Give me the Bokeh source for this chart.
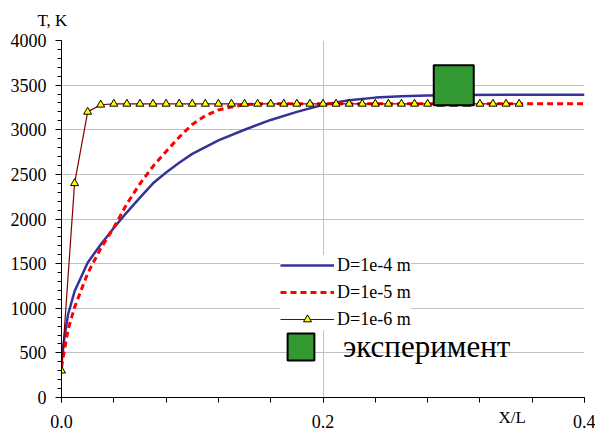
from bokeh.plotting import figure
from bokeh.models import SingleIntervalTicker, Legend, LegendItem, Label, Range1d
from bokeh.embed import file_html
from bokeh.resources import INLINE

# ---- data ----
x_d4 = [0, 0.002, 0.005, 0.01, 0.02, 0.03, 0.04, 0.05, 0.06, 0.07, 0.08, 0.09, 0.10,
        0.12, 0.14, 0.16, 0.18, 0.20, 0.22, 0.24, 0.26, 0.28, 0.30, 0.35, 0.40]
T_d4 = [380, 650, 930, 1190, 1510, 1715, 1900, 2075, 2240, 2400, 2520, 2630, 2730,
        2880, 3000, 3110, 3200, 3280, 3330, 3360, 3375, 3385, 3390, 3392, 3392]

x_d5 = [0, 0.005, 0.01, 0.02, 0.03, 0.04, 0.05, 0.06, 0.07, 0.08, 0.09, 0.10, 0.11,
        0.12, 0.13, 0.14, 0.15, 0.16, 0.20, 0.25, 0.30, 0.35, 0.40]
T_d5 = [340, 760, 1010, 1390, 1670, 1905, 2170, 2395, 2590, 2757, 2917, 3060, 3157,
        3222, 3255, 3280, 3290, 3290, 3290, 3290, 3290, 3290, 3290]

x_d6 = [0.00, 0.01, 0.02, 0.03, 0.04, 0.05, 0.06, 0.07, 0.08, 0.09, 0.10, 0.11,
        0.12, 0.13, 0.14, 0.15, 0.16, 0.17, 0.18, 0.19, 0.20, 0.21, 0.22, 0.23,
        0.24, 0.25, 0.26, 0.27, 0.28, 0.29, 0.30, 0.31, 0.32, 0.33, 0.34, 0.35]
T_d6 = [300, 2400, 3200, 3280, 3290, 3290, 3290, 3290, 3290, 3290, 3290, 3290,
        3290, 3290, 3290, 3290, 3290, 3290, 3290, 3290, 3290, 3290, 3290, 3290,
        3290, 3290, 3290, 3290, 3290, 3290, 3290, 3290, 3290, 3290, 3290, 3290]

x_exp = [0.3]
T_exp = [3500]

x_tick_step = 0.2
y_tick_step = 500
x_label_overrides = {0: "0.0"}

labels = ["D=1e-4 m", "D=1e-5 m", "D=1e-6 m", "эксперимент"]
y_title = "T, K"
x_title = "X/L"

FONT = "Liberation Serif"

p = figure(width=595, height=432, x_range=Range1d(0, 0.4), y_range=Range1d(0, 4000),
           output_backend="svg", toolbar_location=None,
           min_border_left=61, min_border_right=11, min_border_top=40, min_border_bottom=35)
p.outline_line_color = None
p.background_fill_color = "white"
p.border_fill_color = "white"

# axes
p.xaxis.ticker = SingleIntervalTicker(interval=x_tick_step, num_minor_ticks=5)
p.yaxis.ticker = SingleIntervalTicker(interval=y_tick_step, num_minor_ticks=5)
p.xaxis.major_label_overrides = x_label_overrides
p.xaxis.major_label_text_font = FONT
p.yaxis.major_label_text_font = FONT
p.xaxis.major_label_text_font_size = "18px"
p.yaxis.major_label_text_font_size = "18px"
p.axis.axis_line_color = "black"
p.axis.major_tick_line_color = "black"
p.axis.minor_tick_line_color = "black"
p.axis.major_label_text_color = "black"
p.axis.major_tick_in = 0
p.axis.minor_tick_in = 0
p.yaxis.major_tick_out = 6
p.yaxis.minor_tick_out = 4
p.yaxis.major_label_standoff = 9
p.xaxis.major_tick_out = 5
p.xaxis.minor_tick_out = 5
p.xaxis.major_label_standoff = 12

# grids
p.xgrid.ticker = SingleIntervalTicker(interval=x_tick_step)
p.ygrid.ticker = SingleIntervalTicker(interval=y_tick_step)
p.xgrid.grid_line_color = "#c0c0c0"
p.ygrid.grid_line_color = "#c0c0c0"

# series
r4 = p.line(x_d4, T_d4, line_color="#333399", line_width=2.5)
r5 = p.line(x_d5, T_d5, line_color="#ff0000", line_width=3, line_dash="6 4")
r6l = p.line(x_d6, T_d6, line_color="#800000", line_width=1.2)
r6m = p.scatter(x_d6, T_d6, marker="triangle", size=8, fill_color="#ffff00",
                line_color="black", line_width=1)
rexp = p.scatter(x_exp, T_exp, marker="square", size=40, fill_color="#339933",
                 line_color="black", line_width=2)

leg1 = Legend(items=[LegendItem(label=labels[0], renderers=[r4]),
                     LegendItem(label=labels[1], renderers=[r5]),
                     LegendItem(label=labels[2], renderers=[r6l, r6m])],
              location=(219, 67.5), orientation="vertical",
              glyph_width=54, glyph_height=20, label_height=20, label_standoff=3,
              spacing=6, padding=5, margin=0,
              label_text_font=FONT, label_text_font_size="18px", label_text_color="black",
              background_fill_color="white", background_fill_alpha=1.0,
              border_line_color=None)
p.add_layout(leg1)

leg2 = Legend(items=[LegendItem(label=labels[3], renderers=[rexp])],
              location=(206, 17), orientation="vertical",
              glyph_width=67, glyph_height=67, label_standoff=9,
              spacing=0, padding=0, margin=0,
              label_text_font=FONT, label_text_font_size="31px", label_text_color="black",
              background_fill_alpha=0, border_line_color=None)
p.add_layout(leg2)

# axis titles: placed in the "above" side panel (centre annotations are clipped to the frame)
p.add_layout(Label(x=437, y=-377, x_units="screen", y_units="screen", text=x_title,
                   text_font=FONT, text_font_size="17px", text_color="black",
                   text_baseline="alphabetic"), "above")
p.add_layout(Label(x=-24, y=1, x_units="screen", y_units="screen", text=y_title,
                   text_font=FONT, text_font_size="17px", text_color="black",
                   text_baseline="alphabetic"), "above")

open("out.html", "w").write(file_html(p, INLINE))
